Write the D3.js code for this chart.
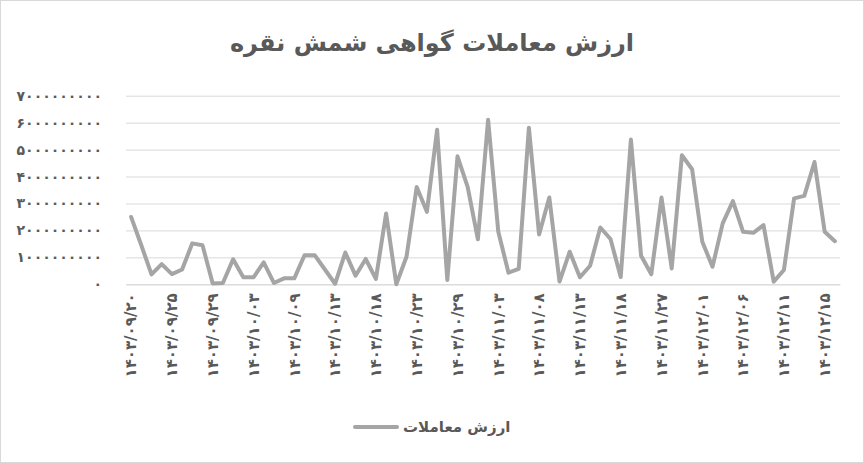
<!DOCTYPE html>
<html><head><meta charset="utf-8">
<script src="https://cdn.jsdelivr.net/npm/d3@7"></script>
<style>body{margin:0;background:#fff} svg{display:block}</style>
</head><body>
<script>
const chartTitle = "ارزش معاملات گواهی شمش نقره";
const seriesName = "ارزش معاملات";

const dates = [
 "1403/09/20","1403/09/21","1403/09/22","1403/09/24","1403/09/25","1403/09/26","1403/09/27","1403/09/28",
 "1403/09/29","1403/09/30","1403/10/01","1403/10/02","1403/10/03","1403/10/04","1403/10/07","1403/10/08",
 "1403/10/09","1403/10/10","1403/10/11","1403/10/12","1403/10/13","1403/10/14","1403/10/15","1403/10/17",
 "1403/10/18","1403/10/20","1403/10/21","1403/10/22","1403/10/23","1403/10/24","1403/10/27","1403/10/28",
 "1403/10/29","1403/10/30","1403/11/01","1403/11/02","1403/11/03","1403/11/04","1403/11/05","1403/11/07",
 "1403/11/08","1403/11/10","1403/11/11","1403/11/12","1403/11/13","1403/11/14","1403/11/15","1403/11/17",
 "1403/11/18","1403/11/20","1403/11/21","1403/11/24","1403/11/27","1403/11/28","1403/11/29","1403/11/30",
 "1403/12/01","1403/12/02","1403/12/04","1403/12/05","1403/12/06","1403/12/07","1403/12/08","1403/12/10",
 "1403/12/11","1403/12/12","1403/12/13","1403/12/14","1403/12/15","1403/12/16"
];

const values = [
 2.50e9, 1.45e9, 0.37e9, 0.75e9, 0.38e9, 0.55e9, 1.52e9, 1.45e9,
 0.03e9, 0.05e9, 0.93e9, 0.26e9, 0.26e9, 0.81e9, 0.05e9, 0.22e9,
 0.22e9, 1.08e9, 1.08e9, 0.55e9, 0.02e9, 1.18e9, 0.32e9, 0.94e9,
 0.20e9, 2.63e9, 0.00e9, 1.02e9, 3.61e9, 2.69e9, 5.74e9, 0.16e9,
 4.75e9, 3.61e9, 1.67e9, 6.11e9, 1.95e9, 0.43e9, 0.57e9, 5.81e9,
 1.85e9, 3.22e9, 0.10e9, 1.21e9, 0.26e9, 0.69e9, 2.11e9, 1.68e9,
 0.27e9, 5.37e9, 1.06e9, 0.37e9, 3.22e9, 0.59e9, 4.79e9, 4.27e9,
 1.58e9, 0.65e9, 2.26e9, 3.09e9, 1.95e9, 1.91e9, 2.20e9, 0.10e9,
 0.53e9, 3.19e9, 3.28e9, 4.54e9, 1.95e9, 1.60e9
];

const yTicks = [0, 1e9, 2e9, 3e9, 4e9, 5e9, 6e9, 7e9];
const labelEvery = 4;

const W = 864, H = 463;
const faDigits = "۰۱۲۳۴۵۶۷۸۹";
const toFa = s => String(s).replace(/[0-9]/g, d => faDigits[+d]);

const svg = d3.select("body").append("svg").attr("width", W).attr("height", H);
svg.append("rect").attr("x", 0.5).attr("y", 0.5).attr("width", W - 1).attr("height", H - 1)
  .attr("fill", "#fff").attr("stroke", "#D9D9D9");

const plot = {left: 126, right: 840, top: 95.7, bottom: 284.3};
const x = d3.scaleBand().domain(dates).range([plot.left, plot.right]).paddingInner(0).paddingOuter(0);
const cx = d => x(d) + x.bandwidth() / 2;
const y = d3.scaleLinear().domain([0, 7e9]).range([plot.bottom, plot.top]);

const txt = "#595959";
const font = "'DejaVu Sans', sans-serif";

// title
svg.append("text").attr("x", 432).attr("y", 51).attr("text-anchor", "middle")
  .attr("font-family", font).attr("font-weight", "bold").attr("font-size", 24)
  .attr("fill", txt).text(chartTitle);

// y axis with gridlines
const yAxis = d3.axisLeft(y).tickValues(yTicks).tickFormat(v => toFa(v))
  .tickSize(-(plot.right - plot.left)).tickPadding(24);
const gy = svg.append("g").attr("transform", `translate(${plot.left},0)`).call(yAxis);
gy.select(".domain").remove();
gy.selectAll(".tick line").attr("stroke", "#D9D9D9").attr("stroke-width", 1);
gy.selectAll(".tick text").attr("fill", txt).attr("font-family", font).attr("font-size", 14)
  .attr("font-weight", "bold");

// x axis
const xAxis = d3.axisBottom(x).tickValues(dates.filter((d, i) => i % labelEvery === 0))
  .tickFormat(d => toFa(d)).tickSize(0);
const gx = svg.append("g").attr("transform", `translate(0,${plot.bottom})`).call(xAxis);
gx.select(".domain").attr("stroke", "#D9D9D9");
gx.selectAll(".tick text").attr("fill", txt).attr("font-family", font).attr("font-size", 15)
  .attr("font-weight", "bold")
  .attr("transform", "rotate(-90)").attr("text-anchor", "end")
  .attr("x", -9).attr("y", 0).attr("dy", "0.35em");

// line
const line = d3.line().x((d, i) => cx(dates[i])).y(d => y(d));
svg.append("path").datum(values).attr("d", line).attr("fill", "none")
  .attr("stroke", "#A5A5A5").attr("stroke-width", 4)
  .attr("stroke-linejoin", "round").attr("stroke-linecap", "round");

// legend
svg.append("line").attr("x1", 355).attr("x2", 397).attr("y1", 427).attr("y2", 427)
  .attr("stroke", "#A5A5A5").attr("stroke-width", 4).attr("stroke-linecap", "round");
svg.append("text").attr("x", 403).attr("y", 432).attr("text-anchor", "start")
  .attr("font-family", font).attr("font-weight", "bold").attr("font-size", 15)
  .attr("fill", txt).text(seriesName);
</script>
</body></html>
